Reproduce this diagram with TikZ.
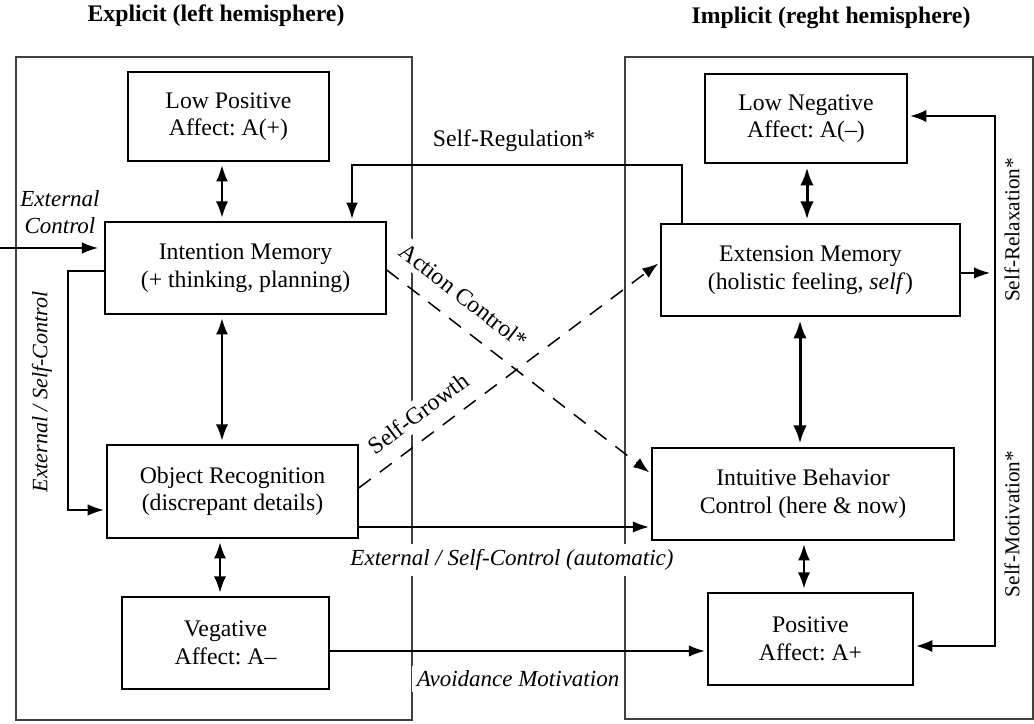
\documentclass[tikz,border=0pt]{standalone}
\usepackage{fontspec}
\setmainfont{Liberation Serif}
\frenchspacing
\usetikzlibrary{
    arrows.meta,
    calc
}
\tikzset {
    panel/.style = {draw = black!75, line width = 0.7pt},
    box/.style = {
        draw,
        line width = 0.6pt,
        align = center,
        inner sep = 0pt,
        font = \fontsize{9.5}{11}\selectfont
    },
    %
    to arrow/.style = {
        line width = 0.6pt,
        -{Latex[length = 6.4pt, width = 4.6pt]},
        shorten > = 1pt
    },
    both arrow/.style = {
        line width = 0.6pt,
        {Latex[length = 6.4pt, width = 4.8pt]}-{Latex[length = 6.4pt, width = 4.8pt]},
        shorten > = 1.5pt,
        shorten < = 1.5pt
    },
    thick both/.style = {
        both arrow,
        line width = 1.2pt,
        {Latex[length = 7.2pt, width = 5.4pt]}-{Latex[length = 7.2pt, width = 5.4pt]}
    },
    dash arrow/.style = {to arrow, dash pattern = on 6pt off 4.5pt},
    %
    label text/.style = {
        fill = white,
        inner sep = 2pt,
        align = center,
        font = \fontsize{9.5}{11}\selectfont
    },
    italic text/.style = {label text, font = \fontsize{9.2}{11}\selectfont\itshape},
    side text/.style = {inner sep = 1pt, rotate = 90, font = \fontsize{8.5}{10}\selectfont},
    heading/.style = {font = \fontsize{9.5}{11}\selectfont\bfseries}
}

\begin{document}
\begin{tikzpicture}[x = 0.4pt, y = -0.4pt]
    \useasboundingbox (0, 0) rectangle (1034, 724);
    \node (left title) [heading] at (216, 16) {Explicit (left hemisphere)};
    \node (right title) [heading] at (831, 18) {Implicit (reght hemisphere)};
    \draw [panel] (16, 57) rectangle (412, 720);
    \draw [panel] (625, 57) rectangle (1033, 719);
    % explicit side
    \node (lowpos) [box, minimum width = 80.4pt, minimum height = 35.6pt]
        at (228.5, 116.5) {Low Positive\\Affect: A(+)};
    \node (intention) [box, minimum width = 112.4pt, minimum height = 36.8pt]
        at (245.5, 268) {Intention Memory\\(+ thinking, planning)};
    \node (object) [box, minimum width = 100.4pt, minimum height = 37.2pt]
        at (232.5, 491.5) {Object Recognition\\(discrepant details)};
    \node (vegative) [box, minimum width = 82.8pt, minimum height = 36.8pt]
        at (225.5, 643) {Vegative\\Affect: A--};
    % implicit side
    \node (lowneg) [box, minimum width = 80.8pt, minimum height = 35.6pt]
        at (806, 118.5) {Low Negative\\Affect: A(--)};
    \node (extension) [box, minimum width = 119.6pt, minimum height = 36.8pt]
        at (810.5, 270) {Extension Memory\\(holistic feeling, \textit{self})};
    \node (intuitive) [box, minimum width = 120.8pt, minimum height = 36.8pt]
        at (803, 494) {Intuitive Behavior\\Control (here \& now)};
    \node (positive) [box, minimum width = 82pt, minimum height = 36.8pt]
        at (810.5, 639) {Positive\\Affect: A+};
    %
    \coordinate (col a) at (222, 0);
    \coordinate (col b) at (220, 0);
    \coordinate (col c) at (807, 0);
    \coordinate (col d) at (800, 0);
    \coordinate (col e) at (804, 0);
    \draw [both arrow] (lowpos.south -| col a) -- (intention.north -| col a);
    \draw [both arrow] (intention.south -| col a) -- (object.north -| col a);
    \draw [both arrow] (object.south -| col b) -- (vegative.north -| col b);
    \draw [thick both] (lowneg.south -| col c) -- (extension.north -| col c);
    \draw [thick both] (extension.south -| col d) -- (intuitive.north -| col d);
    \draw [both arrow] (intuitive.south -| col e) -- (positive.north -| col e);
    %
    \coordinate (reg start) at (682, 0);
    \coordinate (reg corner) at (352, 165);
    \draw [to arrow] (extension.north -| reg start) |- (reg corner)
        -- (intention.north -| reg corner);
    \node (reg label) [label text] at (514, 141) {Self-Regulation*};
    %
    \coordinate (ext start) at (0, 248);
    \draw [to arrow, shorten > = 2.5pt] (ext start) -- (intention.west |- ext start);
    \node (ext label) [italic text, fill = none] at (60, 212) {External\\Control};
    %
    \coordinate (esc top) at (68, 271);
    \coordinate (esc bottom) at (68, 510);
    \draw [to arrow] (intention.west |- esc top) -- (esc top) -- (esc bottom)
        -- (object.west |- esc bottom);
    \node (esc label) [italic text, fill = none, rotate = 90,
        font = \fontsize{8.8}{10}\selectfont\itshape] at (42, 392)
        {External / Self-Control};
    %
    \coordinate (ac start) at (0, 270);
    \coordinate (ac end) at (0, 474);
    \draw [dash arrow] (intention.east |- ac start) -- (intuitive.west |- ac end)
        node [label text, sloped, above = 5pt, pos = 0.23] {Action Control*};
    \coordinate (sg start) at (0, 488);
    \coordinate (sg end) at (0, 262);
    \draw [dash arrow] (object.east |- sg start) -- (extension.west |- sg end)
        node [label text, sloped, above = 4pt, pos = 0.245] {Self-Growth};
    %
    \coordinate (auto) at (0, 527);
    \draw [to arrow] (object.east |- auto) -- (intuitive.west |- auto);
    \node (auto label) [italic text] at (512, 560) {External / Self-Control (automatic)};
    \coordinate (avoid) at (0, 651);
    \draw [to arrow] (vegative.east |- avoid) -- (positive.west |- avoid);
    \node (avoid label) [italic text] at (518, 679) {Avoidance Motivation};
    %
    \coordinate (loop top) at (995, 116);
    \coordinate (loop bottom) at (995, 646);
    \coordinate (relax end) at (990, 273);
    \draw [both arrow, shorten < = 1pt, shorten > = 1pt] (lowneg.east |- loop top)
        -- (loop top) -- (loop bottom) -- (positive.east |- loop bottom);
    \draw [to arrow, shorten > = 0pt] (extension.east |- relax end) -- (relax end);
    \node (relax label) [side text] at (1012, 230) {Self-Relaxation*};
    \node (motiv label) [side text] at (1012, 524) {Self-Motivation*};
\end{tikzpicture}
\end{document}
